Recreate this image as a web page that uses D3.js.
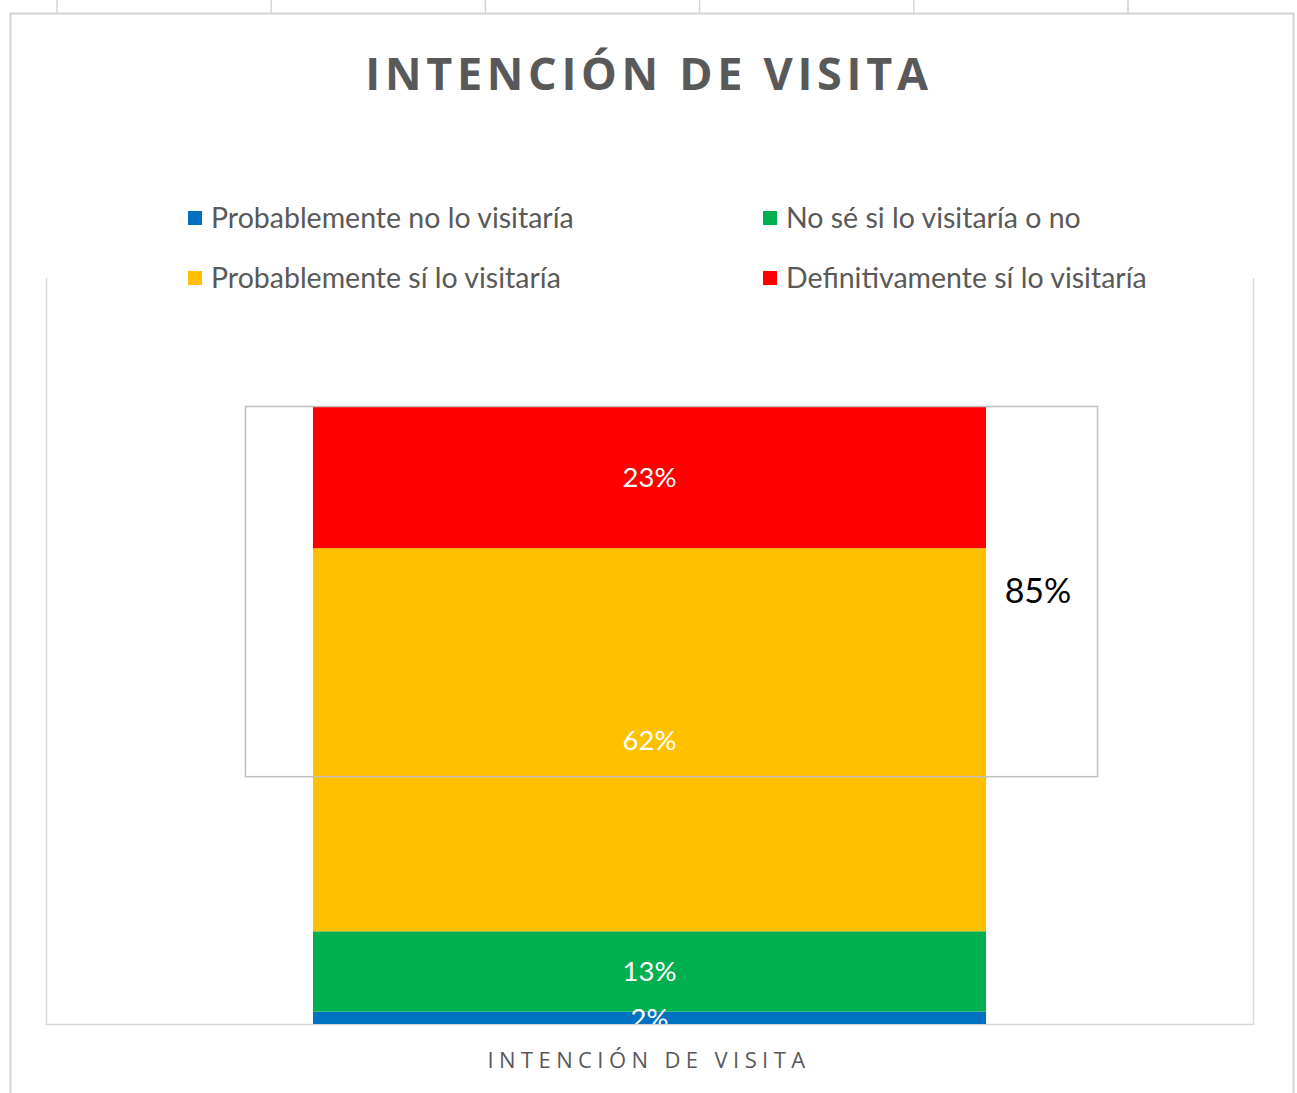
<!DOCTYPE html>
<html>
<head>
<meta charset="utf-8">
<script src="https://cdn.jsdelivr.net/npm/d3@7"></script>
<style>
  body { margin: 0; background: #fff; }
  svg { display: block; }
</style>
</head>
<body>
<svg id="figure"></svg>
<script>
// data
var categories = ["INTENCIÓN DE VISITA"];
var seriesNames = ["Probablemente no lo visitaría", "No sé si lo visitaría o no",
                   "Probablemente sí lo visitaría", "Definitivamente sí lo visitaría"];
var seriesValues = [0.02, 0.13, 0.62, 0.23];
var seriesColors = ["#0070c0", "#00b050", "#ffc000", "#ff0000"];
var boxLabel = "85%";   // probablemente + definitivamente

var fullWidth = 1297, fullHeight = 1093;
var plot = { left: 46, right: 1253, top: 406, bottom: 1024 };

var svg = d3.select("#figure").attr("width", fullWidth).attr("height", fullHeight);

// little ruler ticks above the chart frame
svg.selectAll("line.ruler").data(d3.range(6)).enter().append("line")
    .attr("class", "ruler")
    .attr("x1", function (i) { return 57 + i * 214.2; })
    .attr("x2", function (i) { return 57 + i * 214.2; })
    .attr("y1", 0).attr("y2", 13)
    .attr("stroke", "#d4d4d4").attr("stroke-width", 1.5);

// chart frame
svg.append("path")
    .attr("d", "M10.5," + fullHeight + "V13.5H1293.5V" + fullHeight)
    .attr("fill", "none").attr("stroke", "#d4d4d4").attr("stroke-width", 2);

// title
svg.append("text").text("INTENCIÓN DE VISITA")
    .attr("x", 649).attr("y", 90)
    .attr("text-anchor", "middle")
    .attr("font-family", "'Open Sans', sans-serif").attr("font-weight", "bold")
    .attr("font-size", 45).attr("letter-spacing", "4.7px")
    .attr("fill", "#595959");

// legend, two columns
var legend = svg.append("g");
var legendItems = legend.selectAll("g").data(seriesNames).enter().append("g")
    .attr("transform", function (d, i) {
        return "translate(" + (i % 2 === 0 ? 188 : 763) + "," + (i < 2 ? 218 : 278) + ")";
    });
legendItems.append("rect")
    .attr("x", 0).attr("y", -7).attr("width", 14).attr("height", 14)
    .attr("fill", function (d, i) { return seriesColors[i]; });
legendItems.append("text").text(function (d) { return d; })
    .attr("x", 23).attr("y", 10)
    .attr("font-family", "Lato, sans-serif").attr("font-size", 28.5)
    .attr("fill", "#595959");

// scales
var xScale = d3.scaleBand().domain(categories).range([plot.left, plot.right]).padding(0.284);
var yScale = d3.scaleLinear().domain([0, 1]).range([plot.bottom, plot.top]);

// plot area border (no top edge)
svg.append("path")
    .attr("d", "M" + (plot.left + 0.5) + ",278V" + (plot.bottom + 0.5) + "H" + (plot.right + 0.5) + "V278")
    .attr("fill", "none").attr("stroke", "#d9d9d9").attr("stroke-width", 1.5);

svg.append("clipPath").attr("id", "plotClip").append("rect")
    .attr("x", plot.left).attr("y", 0)
    .attr("width", plot.right - plot.left).attr("height", plot.bottom);

// stacked bar
var stacked = [];
var acc = 0;
seriesValues.forEach(function (v, i) {
    stacked.push({ name: seriesNames[i], value: v, y0: acc, y1: acc + v, color: seriesColors[i] });
    acc += v;
});

var barG = svg.append("g").attr("clip-path", "url(#plotClip)");
barG.selectAll("rect").data(stacked).enter().append("rect")
    .attr("x", xScale(categories[0]))
    .attr("width", xScale.bandwidth())
    .attr("y", function (d) { return yScale(d.y1); })
    .attr("height", function (d) { return yScale(d.y0) - yScale(d.y1); })
    .attr("fill", function (d) { return d.color; });

barG.selectAll("text").data(stacked).enter().append("text")
    .text(function (d) { return Math.round(d.value * 100) + "%"; })
    .attr("x", xScale(categories[0]) + xScale.bandwidth() / 2)
    .attr("y", function (d) { return (yScale(d.y0) + yScale(d.y1)) / 2 + 10; })
    .attr("text-anchor", "middle")
    .attr("font-family", "Lato, sans-serif").attr("font-size", 27.5)
    .attr("fill", "#ffffff");

// annotation box with the 85%
var boxLeft = xScale(categories[0]) - 68;
var boxRight = xScale(categories[0]) + xScale.bandwidth() + 111;
svg.append("rect")
    .attr("x", boxLeft + 0.5).attr("y", yScale(1) + 0.5)
    .attr("width", boxRight - boxLeft).attr("height", yScale(0.401) - yScale(1))
    .attr("fill", "none").attr("stroke", "#c0c0c0").attr("stroke-width", 1.5);
svg.append("text").text(boxLabel)
    .attr("x", 1038).attr("y", 603)
    .attr("text-anchor", "middle")
    .attr("font-family", "Lato, sans-serif").attr("font-size", 34)
    .attr("fill", "#000000");

// category axis label
svg.append("text").text(categories[0])
    .attr("x", 649).attr("y", 1068)
    .attr("text-anchor", "middle")
    .attr("font-family", "'Open Sans', sans-serif").attr("font-size", 22)
    .attr("letter-spacing", "5.4px")
    .attr("fill", "#595959");
</script>
</body>
</html>
